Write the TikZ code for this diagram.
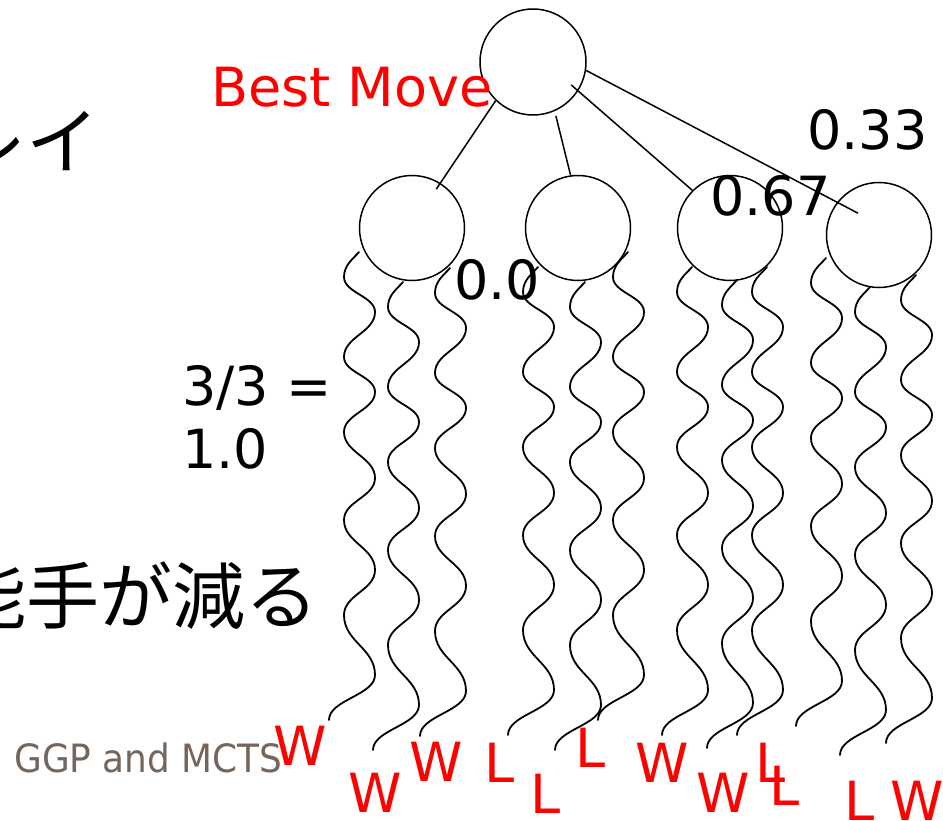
\documentclass[tikz,border=0pt]{standalone}
\usepackage{fontspec}
\setmainfont{DejaVu Sans}
\newfontfamily\jpfont{Noto Sans CJK JP}
\newfontfamily\footfont[FakeStretch=0.92]{DejaVu Sans}
\usetikzlibrary{calc}
\definecolor{footgray}{RGB}{118,101,91}
\tikzset{
  state/.style={circle, draw, line width=1.5pt, minimum size=105pt, inner sep=0pt},
  edge/.style={line width=1.5pt},
  wave/.style={line width=1.8pt, line cap=round},
  value/.style={inner sep=0pt, anchor=base west, font=\fontsize{54}{60}\selectfont},
  outcome/.style={inner sep=0pt, text=red, font=\fontsize{54}{60}\selectfont},
  bigjp/.style={inner sep=0pt, anchor=base east, font=\jpfont\fontsize{73}{80}\selectfont},
  % one random playout, drawn downwards from its start point
  rollout/.pic={
    \draw[wave] (0,0)
      .. controls (-6,7) and (-15,13) .. (-15,25)
      .. controls (-15,40.75) and (16,44.25) .. (16,60)
      .. controls (16,80.25) and (-15,84.75) .. (-15,105)
      .. controls (-15,120.75) and (16,124.25) .. (16,140)
      .. controls (16,158) and (-15,162) .. (-15,180)
      .. controls (-15,200.7) and (16,205.3) .. (16,226)
      .. controls (16,244.9) and (-15,249.1) .. (-15,268)
      .. controls (-15,290.5) and (16,295.5) .. (16,318)
      .. controls (16,338.25) and (-15,342.75) .. (-15,363)
      .. controls (-15,390) and (16,396) .. (16,423)
      .. controls (16,443.25) and (-30,447.75) .. (-30,468);
  }
}
\begin{document}
\begin{tikzpicture}[x=1pt, y=-1pt]
\useasboundingbox (0,0) rectangle (943,821);
\clip (0,0) rectangle (943,821);

% slide text in the background
\node[bigjp] (jp1) at (100,169) {レイ};
\node[bigjp] (jp2) at (319,623) {能手が減る};
\node[inner sep=0pt, anchor=base west, text=footgray,
      font=\footfont\fontsize{39}{45}\selectfont] (foot) at (14,772) {GGP and MCTS};

% search tree
\node[state, minimum size=106pt] (root) at (533,62) {};
\node[state] (c1) at (412,228) {};
\node[state] (c2) at (578,228) {};
\node[state] (c3) at (730,228) {};
\node[state] (c4) at (879,235) {};

\draw[edge] (root.226) -- ($(c1)!0.86!(c1.58)$);
\draw[edge] ($(root)!1.09!(root.293)$) -- (c2.98);
\draw[edge] ($(root)!0.83!(root.329)$) -- (c3.135);
\draw[edge] (root.351) -- ($(c4)!0.57!(c4.134)$);

% playout start points
\coordinate (t1) at (359,252);
\coordinate (t2) at (403,282);
\coordinate (t3) at (450,268);
\coordinate (t4) at (538,267);
\coordinate (t5) at (585,282);
\coordinate (t6) at (628,252);
\coordinate (t7) at (692,267);
\coordinate (t8) at (737,280);
\coordinate (t9) at (767,267);
\coordinate (t10) at (826,258);
\coordinate (t11) at (870,287);
\coordinate (t12) at (916,275);
\foreach \t in {t1,t2,t3,t4,t5,t6,t7,t8,t9,t10,t11,t12}
  \pic at (\t) {rollout};

% values
\node[value, text=red] (best) at (211,107) {Best Move};
\node[value] (v4) at (807,150) {0.33};
\node[value] (v3) at (710,216) {0.67};
\node[value] (v2) at (454,299) {0.0};
\node[value] (v1a) at (182,405) {3/3 =};
\node[value] (v1b) at (182,468) {1.0};

% playout outcomes
\node[outcome] (o1) at (300,746) {W};
\node[outcome] (o2) at (375,793) {W};
\node[outcome] (o3) at (436,762) {W};
\node[outcome] (o4) at (500,763) {L};
\node[outcome] (o5) at (546,794) {L};
\node[outcome] (o6) at (591,748) {L};
\node[outcome] (o7) at (662,763) {W};
\node[outcome] (o8) at (723,793) {W};
\node[outcome] (o9) at (771,763) {L};
\node[outcome] (o10) at (785,786) {L};
\node[outcome] (o11) at (860,801) {L};
\node[outcome] (o12) at (917,801) {W};
\end{tikzpicture}
\end{document}
